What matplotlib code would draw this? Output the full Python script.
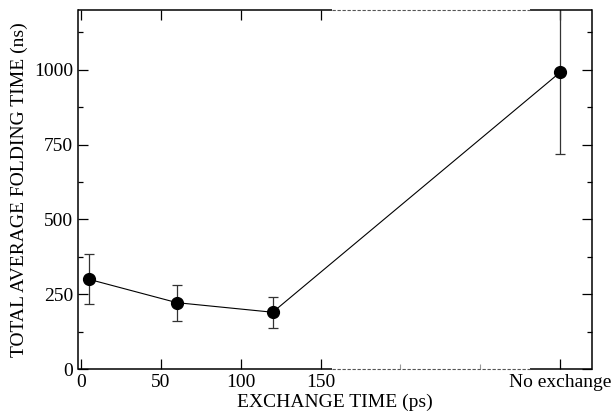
import matplotlib
matplotlib.use("Agg")
import matplotlib.pyplot as plt

plt.rcParams['font.family'] = ['Liberation Serif', 'DejaVu Serif']

# data
exch_time = [5, 60, 120, 300]          # 300 stands for "No exchange"
fold_time = [300, 222, 190, 992]
err_low = [84, 62, 52, 273]
err_high = [84, 60, 52, 273]
tick_pos = [0, 50, 100, 150, 300]
tick_labels = ['0', '50', '100', '150', 'No exchange']
gap_ticks = [200, 250]
gap = (157, 281)

fig, ax = plt.subplots(figsize=(6.13, 4.18), dpi=100)
fig.subplots_adjust(left=0.127, right=0.966, top=0.976, bottom=0.117)

ax.errorbar(exch_time, fold_time, yerr=[err_low, err_high], fmt='o-',
            color='black', ms=8.5, lw=0.8, elinewidth=0.9, capsize=3.5,
            ecolor='#333333', capthick=0.9)

ax.set_xlim(-2, 320)
ax.set_ylim(0, 1200)
ax.set_xticks(tick_pos)
ax.set_xticklabels(tick_labels)
ax.set_xticks(gap_ticks, minor=True)
ax.set_yticks([0, 250, 500, 750, 1000])
ax.set_yticks([125, 375, 625, 875, 1125], minor=True)

ax.tick_params(which='major', direction='in', length=7, width=0.9,
               labelsize=14, top=True, right=True)
ax.tick_params(axis='y', which='minor', direction='in', length=3.5,
               width=0.9, right=True)
ax.tick_params(axis='x', which='minor', direction='in', length=3.5,
               width=0.8, color='#999999')

# broken top/bottom spines
ax.spines['top'].set_visible(False)
ax.spines['bottom'].set_visible(False)
tr = ax.get_xaxis_transform()
x0, x1 = ax.get_xlim()
for yy in (0, 1):
    ax.plot([x0, gap[0]], [yy, yy], color='black', lw=1.1, transform=tr,
            clip_on=False, solid_capstyle='butt')
    ax.plot([gap[1], x1], [yy, yy], color='black', lw=1.1, transform=tr,
            clip_on=False, solid_capstyle='butt')
    ax.plot(gap, [yy, yy], color='#555555', lw=0.8, ls=(0, (3, 1.5)),
            transform=tr, clip_on=False)
ax.spines['left'].set_linewidth(1.1)
ax.spines['right'].set_linewidth(1.1)

ax.set_xlabel('EXCHANGE TIME (ps)', fontsize=14, labelpad=2)
ax.set_ylabel('TOTAL AVERAGE FOLDING TIME (ns)', fontsize=14, labelpad=4)

fig.savefig('out.png', dpi=100)
